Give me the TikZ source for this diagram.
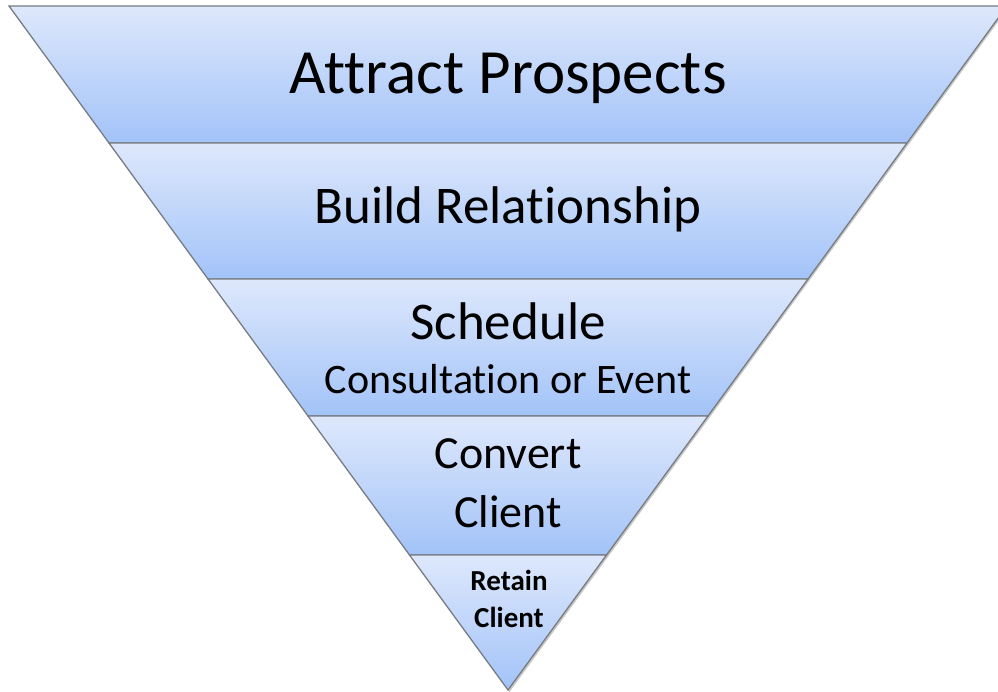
\documentclass[tikz,border=0pt]{standalone}
\usepackage{fontspec}
\setmainfont{Carlito}[Ligatures=NoCommon]
\definecolor{bandtop}{RGB}{222,232,252}
\definecolor{bandbot}{RGB}{162,195,248}
\definecolor{edge}{RGB}{120,124,130}
\tikzset{
  band/.style={top color=bandtop, bottom color=bandbot, draw=edge, line width=1.3pt, line join=miter},
  lbl/.style={anchor=base, inner sep=0pt, text=black},
}
\begin{document}
\begin{tikzpicture}[x=1pt,y=-1pt]
\useasboundingbox (0,0) rectangle (998,692);
\clip (0,0) rectangle (998,692);
% soft shadow
\fill[black!22] (10.5,7.5) -- (1008.5,7.5) -- (509.5,692) -- cycle;
% bands
\shade[band] (9,6) -- (1007,6) -- (907,143) -- (109,143) -- cycle;
\shade[band] (109,143) -- (907,143) -- (808,279) -- (208,279) -- cycle;
\shade[band] (208,279) -- (808,279) -- (708,416) -- (308,416) -- cycle;
\shade[band] (308,416) -- (708,416) -- (606.5,555) -- (409.5,555) -- cycle;
\shade[band] (409.5,555) -- (606.5,555) -- (508,690) -- cycle;
% labels
\node[lbl, font=\fontsize{63}{70}\selectfont] (attract) at (508,94) {Attract Prospects};
\node[lbl, font=\fontsize{53}{60}\selectfont] (build) at (508,224) {Build Relationship};
\node[lbl, font=\fontsize{53}{60}\selectfont] (sched) at (508,339) {Schedule};
\node[lbl, font=\fontsize{42}{48}\selectfont] (consult) at (508,393) {Consultation or Event};
\node[lbl, font=\fontsize{46}{52}\selectfont] (convert) at (508,468) {Convert};
\node[lbl, font=\fontsize{46}{52}\selectfont] (client) at (508,527) {Client};
\node[lbl, font=\bfseries\fontsize{29}{34}\selectfont] (retain) at (509,590) {Retain};
\node[lbl, font=\bfseries\fontsize{29}{34}\selectfont] (rclient) at (509,627) {Client};
\end{tikzpicture}
\end{document}
